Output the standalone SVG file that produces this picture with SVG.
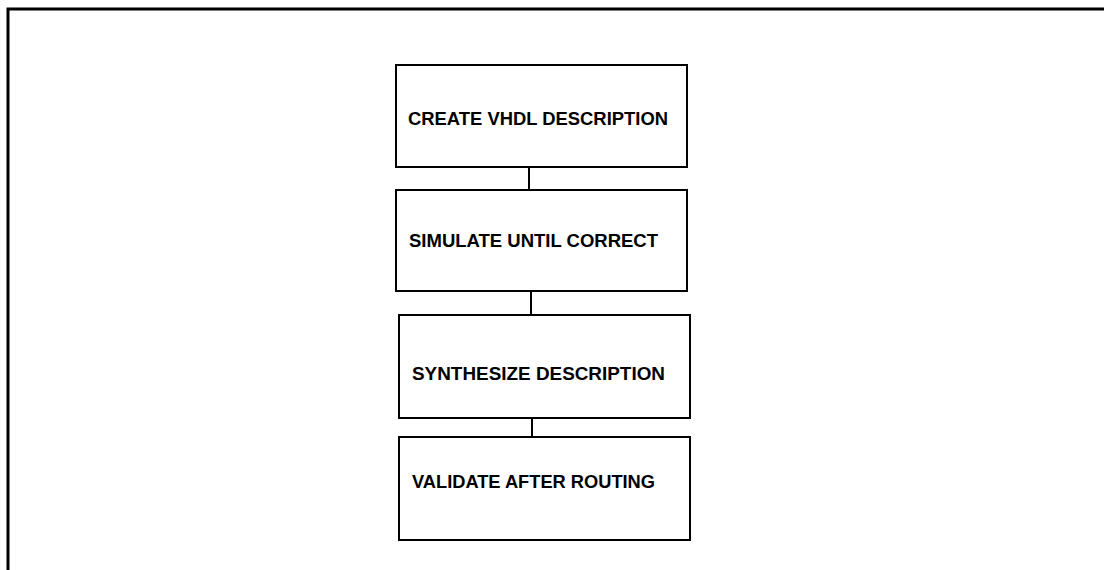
<svg xmlns="http://www.w3.org/2000/svg" width="1104" height="570" viewBox="0 0 1104 570">
<style>
.box{fill:none;stroke:#000;stroke-width:2}
.lbl{font-family:"Liberation Sans",Arial,sans-serif;font-weight:bold;font-size:19px;fill:#000}
.conn line{stroke:#000;stroke-width:2}
.frame{stroke:#000;stroke-width:3;fill:none}
</style>
<rect width="1104" height="570" fill="#fff"/>
<path class="frame" d="M8,570 V9 H1104"/>
<g id="n1"><rect class="box" x="396" y="65" width="291" height="102"/><text class="lbl" x="408" y="125" textLength="260" lengthAdjust="spacingAndGlyphs">CREATE VHDL DESCRIPTION</text></g>
<g id="n2"><rect class="box" x="396" y="190" width="291" height="101"/><text class="lbl" x="409" y="247" textLength="249" lengthAdjust="spacingAndGlyphs">SIMULATE UNTIL CORRECT</text></g>
<g id="n3"><rect class="box" x="399" y="315" width="291" height="103"/><text class="lbl" x="412" y="380" textLength="253" lengthAdjust="spacingAndGlyphs">SYNTHESIZE DESCRIPTION</text></g>
<g id="n4"><rect class="box" x="399" y="437" width="291" height="103"/><text class="lbl" x="412" y="488" textLength="243" lengthAdjust="spacingAndGlyphs">VALIDATE AFTER ROUTING</text></g>
<g id="connectors" class="conn">
<line x1="529" y1="167" x2="529" y2="190"/>
<line x1="531" y1="291" x2="531" y2="315"/>
<line x1="532" y1="418" x2="532" y2="437"/>
</g>
</svg>
